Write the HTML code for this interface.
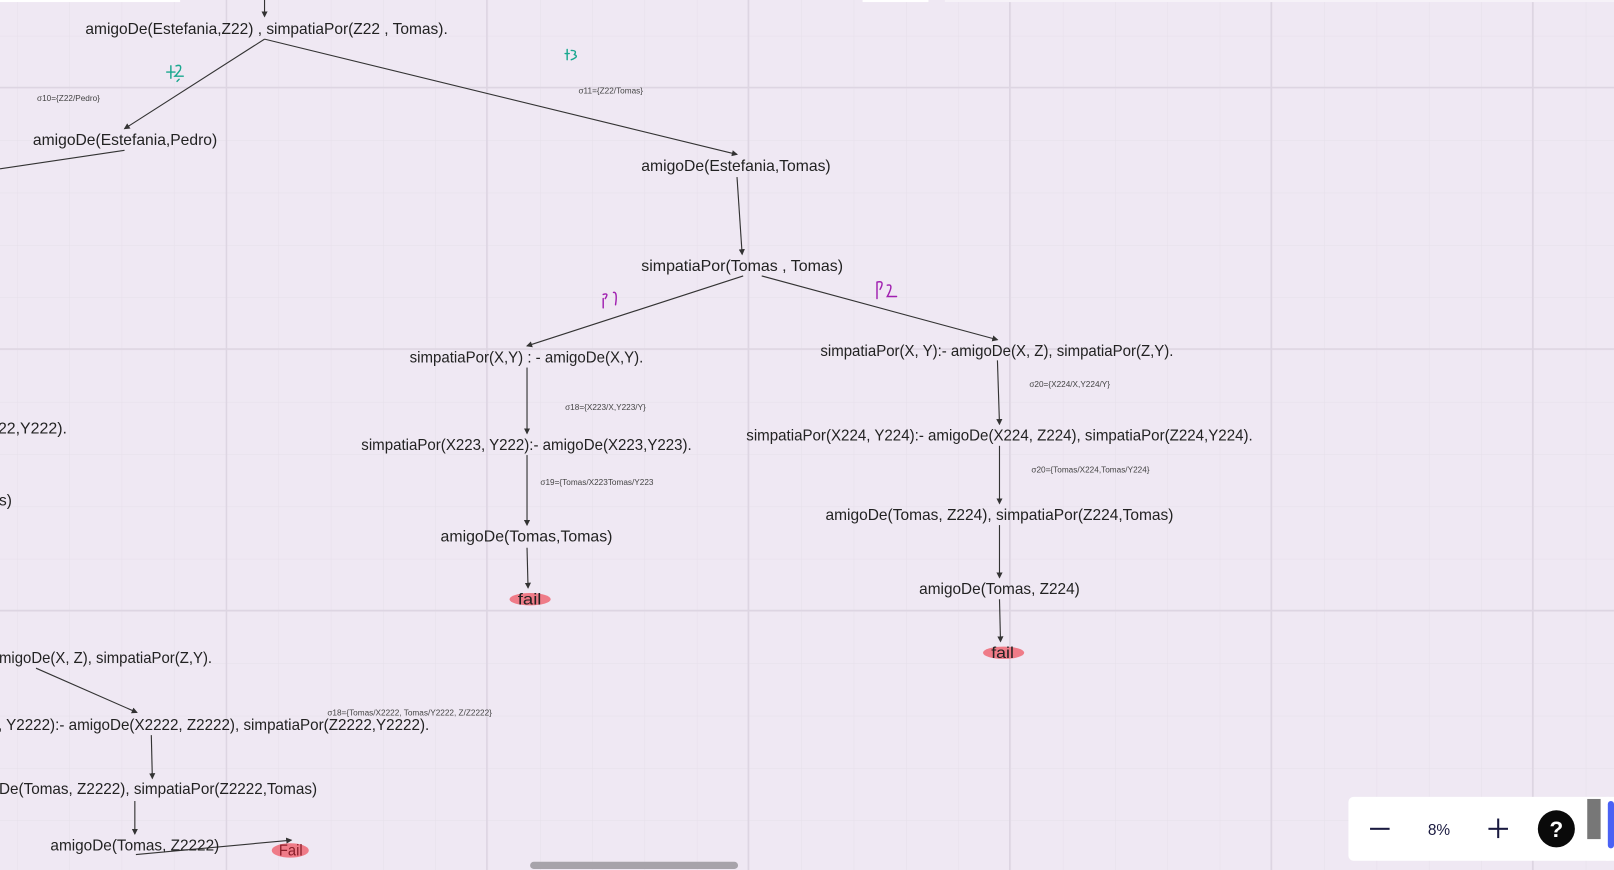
<!DOCTYPE html>
<html><head><meta charset="utf-8"><style>
html,body{margin:0;padding:0;background:#efe8f3;overflow:hidden}
svg{display:block}
text{font-family:"Liberation Sans",sans-serif;fill:#222}
.t{font-size:15px}
.s{font-size:8px;fill:#444}
</style></head><body>
<svg width="1614" height="870" viewBox="0 0 1568 845" preserveAspectRatio="none" xmlns="http://www.w3.org/2000/svg">
<defs>
<pattern id="minor" x="16.6" y="-16" width="50.8" height="50.8" patternUnits="userSpaceOnUse">
<path d="M0 0V50.8M0 0H50.8" stroke="#e6dfea" stroke-width="1" fill="none"/>
</pattern>
<marker id="a" markerWidth="6" markerHeight="6" refX="5" refY="3" orient="auto" markerUnits="userSpaceOnUse"><path d="M0,0 L6,3 L0,6 z" fill="#333"/></marker>
</defs>
<rect width="1568" height="845" fill="#efe8f3"/>
<rect width="1568" height="845" fill="url(#minor)"/>
<g stroke="#ddd5e2" stroke-width="1.5">
<line x1="220" y1="0" x2="220" y2="845"/><line x1="473" y1="0" x2="473" y2="845"/><line x1="727" y1="0" x2="727" y2="845"/><line x1="981" y1="0" x2="981" y2="845"/><line x1="1235" y1="0" x2="1235" y2="845"/><line x1="1489" y1="0" x2="1489" y2="845"/>
<line x1="0" y1="85" x2="1568" y2="85"/><line x1="0" y1="339" x2="1568" y2="339"/><line x1="0" y1="593" x2="1568" y2="593"/>
</g>
<rect x="0" y="0" width="175" height="2" fill="#fff"/>
<rect x="838" y="0" width="64" height="2" fill="#fff"/>
<rect x="918" y="0" width="650" height="2" fill="#f6f2f8"/>

<!-- fail highlights -->
<ellipse cx="515" cy="582" rx="20" ry="6" fill="#ee6f7c" opacity="0.9"/>
<ellipse cx="975" cy="634" rx="20" ry="6" fill="#ee6f7c" opacity="0.9"/>
<ellipse cx="282" cy="826" rx="18" ry="7" fill="#ee6f7c" opacity="0.9"/>

<g stroke="#333" stroke-width="1.1" fill="none">
<line x1="257" y1="0" x2="257" y2="16" marker-end="url(#a)"/>
<line x1="257" y1="38" x2="121" y2="125" marker-end="url(#a)"/>
<line x1="257" y1="38" x2="716" y2="150" marker-end="url(#a)"/>
<line x1="121" y1="146" x2="0" y2="164"/>
<line x1="716" y1="172" x2="721" y2="247" marker-end="url(#a)"/>
<line x1="722" y1="268" x2="512" y2="336" marker-end="url(#a)"/>
<line x1="740" y1="268" x2="969" y2="330" marker-end="url(#a)"/>
<line x1="512" y1="357" x2="512" y2="421" marker-end="url(#a)"/>
<line x1="512" y1="442" x2="512" y2="510" marker-end="url(#a)"/>
<line x1="512" y1="532" x2="513" y2="571" marker-end="url(#a)"/>
<line x1="969" y1="350" x2="971" y2="412" marker-end="url(#a)"/>
<line x1="971" y1="433" x2="971" y2="489" marker-end="url(#a)"/>
<line x1="971" y1="510" x2="971" y2="561" marker-end="url(#a)"/>
<line x1="971" y1="582" x2="972" y2="623" marker-end="url(#a)"/>
<line x1="35" y1="649" x2="133" y2="692" marker-end="url(#a)"/>
<line x1="147" y1="714" x2="148" y2="756" marker-end="url(#a)"/>
<line x1="131" y1="778" x2="131" y2="810" marker-end="url(#a)"/>
<line x1="132" y1="830" x2="283" y2="816" marker-end="url(#a)"/>
</g>

<g class="t">
<text x="83" y="33" textLength="352" lengthAdjust="spacingAndGlyphs" class="t">amigoDe(Estefania,Z22) , simpatiaPor(Z22 , Tomas).</text>
<text x="32" y="141" textLength="179" lengthAdjust="spacingAndGlyphs" class="t">amigoDe(Estefania,Pedro)</text>
<text x="623" y="166" textLength="184" lengthAdjust="spacingAndGlyphs" class="t">amigoDe(Estefania,Tomas)</text>
<text x="623" y="263" textLength="196" lengthAdjust="spacingAndGlyphs" class="t">simpatiaPor(Tomas , Tomas)</text>
<text x="398" y="352" textLength="227" lengthAdjust="spacingAndGlyphs" class="t">simpatiaPor(X,Y) : - amigoDe(X,Y).</text>
<text x="797" y="346" textLength="343" lengthAdjust="spacingAndGlyphs" class="t">simpatiaPor(X, Y):- amigoDe(X, Z), simpatiaPor(Z,Y).</text>
<text x="-2" y="421" textLength="67" lengthAdjust="spacingAndGlyphs" class="t">22,Y222).</text>
<text x="351" y="437" textLength="321" lengthAdjust="spacingAndGlyphs" class="t">simpatiaPor(X223, Y222):- amigoDe(X223,Y223).</text>
<text x="725" y="428" textLength="492" lengthAdjust="spacingAndGlyphs" class="t">simpatiaPor(X224, Y224):- amigoDe(X224, Z224), simpatiaPor(Z224,Y224).</text>
<text x="-1" y="491" class="t">s)</text>
<text x="802" y="505" textLength="338" lengthAdjust="spacingAndGlyphs" class="t">amigoDe(Tomas, Z224), simpatiaPor(Z224,Tomas)</text>
<text x="428" y="526" textLength="167" lengthAdjust="spacingAndGlyphs" class="t">amigoDe(Tomas,Tomas)</text>
<text x="893" y="577" textLength="156" lengthAdjust="spacingAndGlyphs" class="t">amigoDe(Tomas, Z224)</text>
<text x="503" y="587" textLength="23" lengthAdjust="spacingAndGlyphs" class="t">fail</text>
<text x="963" y="639" textLength="22" lengthAdjust="spacingAndGlyphs" class="t">fail</text>
<text x="-1" y="644" textLength="207" lengthAdjust="spacingAndGlyphs" class="t">migoDe(X, Z), simpatiaPor(Z,Y).</text>
<text x="-2" y="709" textLength="419" lengthAdjust="spacingAndGlyphs" class="t">, Y2222):- amigoDe(X2222, Z2222), simpatiaPor(Z2222,Y2222).</text>
<text x="-1" y="771" textLength="309" lengthAdjust="spacingAndGlyphs" class="t">De(Tomas, Z2222), simpatiaPor(Z2222,Tomas)</text>
<text x="49" y="826" textLength="164" lengthAdjust="spacingAndGlyphs" class="t">amigoDe(Tomas, Z2222)</text>
<text x="271" y="831" textLength="23" lengthAdjust="spacingAndGlyphs" class="t" style="fill:#8a1f2a">Fail</text>
</g>

<g class="s">
<text x="36" y="98" class="s">σ10={Z22/Pedro}</text>
<text x="562" y="91" class="s">σ11={Z22/Tomas}</text>
<text x="549" y="398" class="s">σ18={X223/X,Y223/Y}</text>
<text x="525" y="471" class="s">σ19={Tomas/X223Tomas/Y223</text>
<text x="1000" y="376" class="s">σ20={X224/X,Y224/Y}</text>
<text x="1002" y="459" class="s">σ20={Tomas/X224,Tomas/Y224}</text>
<text x="318" y="695" class="s">σ18={Tomas/X2222, Tomas/Y2222, Z/Z2222}</text>
</g>

<!-- handwritten annotations -->
<g fill="none" stroke-width="1.4" stroke-linecap="round">
<g stroke="#1aa88f">
<path d="M162 70 H170 M166 64 V76 M171 64 Q177 62 175 68 Q172 72 170 74 H178 M172 79 L174 77"/>
<path d="M549 52 H553 M551 48 V58 M555 49 Q561 49 558 53 Q563 55 555 58"/>
</g>
<g stroke="#a020b0">
<path d="M586 290 V299 M586 286 Q592 284 588 290 M596 284 Q600 283 598 296"/>
<path d="M852 274 V290 M852 274 Q860 272 855 281 M862 277 Q869 275 862 288 H871"/>
</g>
</g>

<!-- scrollbar -->
<rect x="515" y="837" width="202" height="7" rx="3.5" fill="#a7a3aa"/>

<!-- toolbar -->
<rect x="1310" y="774" width="277" height="62" rx="5" fill="#fff"/>
<rect x="1331" y="804" width="19" height="2" fill="#1a1a40"/>
<text x="1398" y="811" text-anchor="middle" style="font-size:15px;fill:#1a1a40">8%</text>
<rect x="1446" y="804" width="19" height="2" fill="#1a1a40"/>
<rect x="1454.5" y="795" width="2" height="19" fill="#1a1a40"/>
<circle cx="1512" cy="805" r="18" fill="#0a0a0a"/>
<text x="1512" y="813" text-anchor="middle" style="font-size:22px;font-weight:bold;fill:#fff">?</text>
<rect x="1542" y="776" width="13" height="39" fill="#777"/>
<rect x="1556" y="774" width="12" height="62" rx="5" fill="#fff"/>
<rect x="1562" y="778" width="6" height="46" rx="3" fill="#4a62f5"/>
</svg>
</body></html>
